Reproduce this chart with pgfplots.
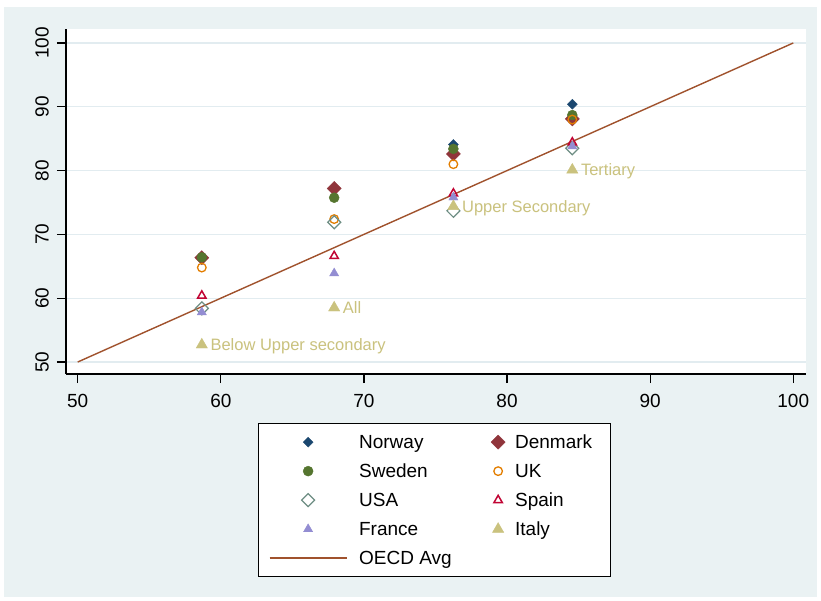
\documentclass[border=0pt]{standalone}
\usepackage{fontspec}
\setmainfont{Liberation Sans}
\usepackage{pgfplots}
\pgfplotsset{compat=1.18}
\definecolor{bgblue}{RGB}{234,242,243}
\definecolor{gridblue}{RGB}{226,236,240}
\definecolor{snavy}{RGB}{26,71,111}
\definecolor{smaroon}{RGB}{144,53,59}
\definecolor{sgreen}{RGB}{85,117,47}
\definecolor{sorange}{RGB}{227,126,0}
\definecolor{steal}{RGB}{110,142,132}
\definecolor{scranb}{RGB}{193,5,52}
\definecolor{slav}{RGB}{147,141,210}
\definecolor{skhaki}{RGB}{202,194,126}
\definecolor{ssienna}{RGB}{160,82,45}
\pgfplotsset{
  leftimg/.style={legend image code/.code={\draw[##1, overlay] plot coordinates {(0bp,0bp)}; \path[draw=none,fill=none] (-38.5bp,0bp) -- (51bp,0bp);}},
  rightimg/.style={legend image code/.code={\draw[##1, overlay] plot coordinates {(0bp,0bp)}; \path[draw=none,fill=none] (-6bp,0bp) -- (17bp,0bp);}},
  lineimg/.style={legend image code/.code={\draw[##1] (-38.5bp,0bp) -- (38.5bp,0bp); \path[draw=none,fill=none] (51bp,0bp);}},
}
\newcommand{\lA}[1]{\makebox[133bp][l]{#1}}
\newcommand{\lB}[1]{\makebox[84.5bp][l]{#1}}
\begin{document}
\begin{tikzpicture}
\useasboundingbox (0bp,0bp) rectangle (821bp,601bp);
\fill[white] (0bp,0bp) rectangle (821bp,601bp);
\fill[bgblue] (4bp,4bp) rectangle (817bp,594bp);
\begin{axis}[
  at={(66bp,227bp)}, anchor=south west,
  scale only axis, width=740bp, height=345bp,
  xmin=49.18, xmax=100.89, ymin=48.12, ymax=102.19,
  axis x line*=bottom, axis y line*=left,
  axis line style={black, line width=1.2bp, -},
  xtick={50,60,...,100}, ytick={50,60,...,100},
  tick align=outside, major tick length=9bp,
  tick style={black, line width=1.2bp},
  ymajorgrids, grid style={gridblue, line width=1.3bp},
  axis background/.style={fill=white},
  /pgf/number format/assume math mode=true,
  ticklabel style={font=\fontsize{19bp}{22bp}\selectfont, text=black, inner sep=0pt},
  yticklabel style={rotate=90, anchor=south},
  xticklabel style={anchor=north},
  yticklabel shift=8bp, xticklabel shift=11bp,
  legend columns=2,
  legend style={at={(0.2595,-0.142)}, anchor=north west, draw=black, line width=0.8bp, fill=white,
    inner sep=10.5bp, row sep=12.5bp, column sep=0pt,
    nodes={anchor=west, inner sep=0pt, text height=15bp, text depth=1.5bp,
      font=\fontsize{19bp}{22bp}\selectfont, text=black}},
]
% Norway
\addplot[only marks, mark=square*, mark size=3.5bp, color=snavy, line width=0.4bp, mark options={rotate=45}, leftimg]
  coordinates {(58.67,66.4) (67.92,77.3) (76.25,84.1) (84.56,90.4)};
\addlegendentry{\lA{Norway}}
% Denmark
\addplot[only marks, mark=square*, mark size=5bp, color=smaroon, line width=0.4bp, mark options={rotate=45}, rightimg]
  coordinates {(58.67,66.35) (67.92,77.2) (76.25,82.6) (84.56,88.1)};
\addlegendentry{\lB{Denmark}}
% Sweden
\addplot[only marks, mark=*, mark size=5bp, color=sgreen, line width=0.4bp, leftimg]
  coordinates {(58.67,66.4) (67.92,75.75) (76.25,83.4) (84.56,88.7)};
\addlegendentry{\lA{Sweden}}
% UK
\addplot[only marks, mark=o, mark size=4.3bp, color=sorange, line width=1.3bp, rightimg]
  coordinates {(58.67,64.8) (67.92,72.4) (76.25,81.0) (84.56,88.0)};
\addlegendentry{\lB{UK}}
% USA
\addplot[only marks, mark=square, mark size=4.6bp, color=steal, line width=1.2bp, mark options={rotate=45}, leftimg]
  coordinates {(58.67,58.4) (67.92,71.9) (76.25,73.7) (84.56,83.5)};
\addlegendentry{\lA{USA}}
% Spain
\addplot[only marks, mark=triangle, mark size=4.8bp, color=scranb, line width=1.5bp, rightimg]
  coordinates {(58.67,60.4) (67.92,66.6) (76.25,76.4) (84.56,84.4)};
\addlegendentry{\lB{Spain}}
% France
\addplot[only marks, mark=triangle*, mark size=5.3bp, color=slav, line width=0.4bp, leftimg]
  coordinates {(58.67,57.8) (67.92,63.9) (76.25,75.8) (84.56,83.8)};
\addlegendentry{\lA{France}}
% Italy
\addplot[only marks, mark=triangle*, mark size=6.5bp, color=skhaki, line width=0.4bp,
  nodes near coords, point meta=explicit symbolic, nodes near coords align={horizontal},
  every node near coord/.append style={anchor=west, inner sep=0pt, xshift=8.5bp,
    text height=11.8bp, text depth=0pt, font=\fontsize{16.5bp}{18bp}\selectfont, text=skhaki},
  rightimg]
  coordinates {(58.67,52.7) [Below Upper secondary] (67.92,58.5) [All] (76.25,74.4) [Upper Secondary] (84.56,80.1) [Tertiary]};
\addlegendentry{\lB{Italy}}
% OECD line
\addplot[color=ssienna, line width=1.4bp, mark=none, lineimg]
  coordinates {(50,50) (100,100)};
\addlegendentry{\lA{OECD Avg}}
\end{axis}
\end{tikzpicture}
\end{document}
